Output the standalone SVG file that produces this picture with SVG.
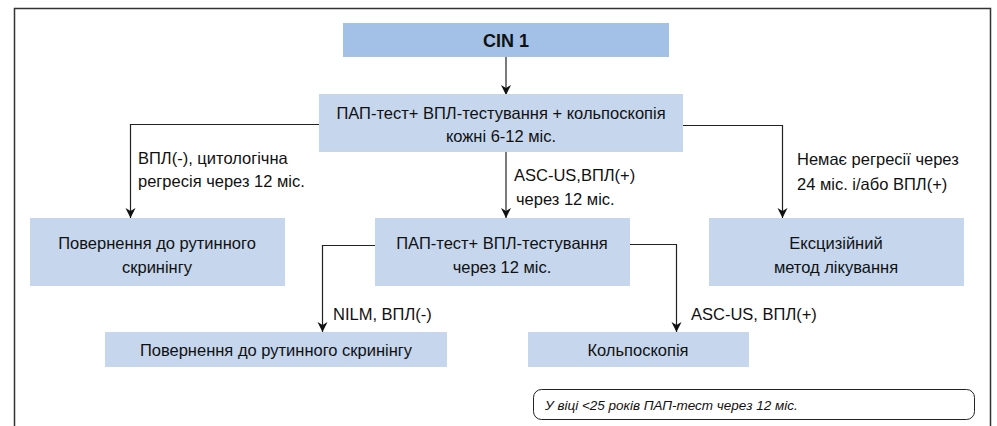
<svg xmlns="http://www.w3.org/2000/svg" width="997" height="426" viewBox="0 0 997 426">
<defs>
<marker id="ah" viewBox="0 0 10 12" refX="10" refY="6" markerWidth="10" markerHeight="12" markerUnits="userSpaceOnUse" orient="auto">
<path d="M0,1 L10,6 L0,11 L3,6 Z" fill="#111"/>
</marker>
</defs>
<style>
.box{fill:#c5d6ed}
.top{fill:#a3c1e6}
.t{font-family:"Liberation Sans",Arial,sans-serif;font-size:16.5px;fill:#111}
.c{text-anchor:middle}
.b{font-weight:bold;font-size:18px}
.lab{font-family:"Liberation Sans",Arial,sans-serif;font-size:16.5px;fill:#111}
.note{font-family:"Liberation Sans",Arial,sans-serif;font-size:13.5px;font-style:italic;fill:#111}
.ln{fill:none;stroke:#222;stroke-width:1.2;marker-end:url(#ah)}
</style>
<rect width="997" height="426" fill="#fff"/>
<g id="frame">
<path d="M14.5,426 V8.5 H990.5 V426" fill="none" stroke="#333" stroke-width="1.5"/>
</g>
<g id="connectors">
<path class="ln" d="M506,57 V95"/>
<path class="ln" d="M319,124.5 H130.5 V218"/>
<path class="ln" d="M506,152 V218"/>
<path class="ln" d="M683,125.5 H782.5 V218"/>
<path class="ln" d="M375,245.5 H322.5 V332"/>
<path class="ln" d="M630,244.5 H676.5 V332"/>
</g>
<g id="labels">
<text class="lab" x="138" y="164">ВПЛ(-), цитологічна</text>
<text class="lab" x="138" y="187">регресія через 12 міс.</text>
<text class="lab" x="514" y="181">ASC-US,ВПЛ(+)</text>
<text class="lab" x="516" y="205">через 12 міс.</text>
<text class="lab" x="797" y="165">Немає регресії через</text>
<text class="lab" x="797" y="190">24 міс. і/або ВПЛ(+)</text>
<text class="lab" x="333" y="320">NILM, ВПЛ(-)</text>
<text class="lab" x="691" y="320">ASC-US, ВПЛ(+)</text>
</g>
<g id="cin1">
<rect class="top" x="343" y="23" width="326" height="34"/>
<text class="t c b" x="506" y="47">CIN 1</text>
</g>
<g id="monitor">
<rect class="box" x="319" y="94" width="364" height="58"/>
<text class="t c" x="501" y="119">ПАП-тест+ ВПЛ-тестування + кольпоскопія</text>
<text class="t c" x="501" y="142">кожні 6-12 міс.</text>
</g>
<g id="return1">
<rect class="box" x="30" y="218" width="255" height="68"/>
<text class="t c" x="157" y="249">Повернення до рутинного</text>
<text class="t c" x="157" y="273">скринінгу</text>
</g>
<g id="retest">
<rect class="box" x="375" y="218" width="255" height="68"/>
<text class="t c" x="502" y="249">ПАП-тест+ ВПЛ-тестування</text>
<text class="t c" x="502" y="273">через 12 міс.</text>
</g>
<g id="excision">
<rect class="box" x="709" y="218" width="255" height="68"/>
<text class="t c" x="836" y="249">Ексцизійний</text>
<text class="t c" x="836" y="273">метод лікування</text>
</g>
<g id="return2">
<rect class="box" x="105" y="332" width="342" height="35"/>
<text class="t c" x="276" y="356">Повернення до рутинного скринінгу</text>
</g>
<g id="colpo">
<rect class="box" x="528" y="332" width="221" height="35"/>
<text class="t c" x="638" y="356">Кольпоскопія</text>
</g>
<g id="note">
<rect x="533.5" y="389.5" width="441" height="30" rx="8" fill="#fff" stroke="#222" stroke-width="1"/>
<text class="note" x="545" y="410">У віці &lt;25 років ПАП-тест через 12 міс.</text>
</g>
</svg>
